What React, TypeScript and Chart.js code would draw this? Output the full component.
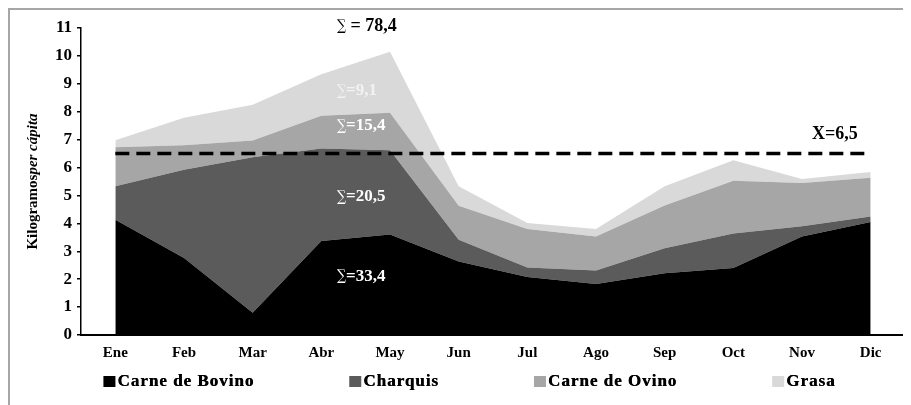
import React, { useEffect, useRef } from "react";
import { Chart, registerables } from "chart.js";

Chart.register(...registerables);

const months = ["Ene", "Feb", "Mar", "Abr", "May", "Jun", "Jul", "Ago", "Sep", "Oct", "Nov", "Dic"];
const bovino = [4.13, 2.76, 0.8, 3.37, 3.6, 2.63, 2.08, 1.83, 2.21, 2.4, 3.53, 4.05];
const charquis = [1.2, 3.16, 5.57, 3.31, 3.02, 0.78, 0.34, 0.48, 0.9, 1.24, 0.37, 0.2];
const ovino = [1.4, 0.88, 0.6, 1.18, 1.34, 1.22, 1.38, 1.22, 1.53, 1.89, 1.55, 1.38];
const grasa = [0.25, 0.98, 1.28, 1.48, 2.19, 0.7, 0.21, 0.27, 0.69, 0.73, 0.14, 0.21];
const mediaValue = 6.5;
const seriesNames = ["Carne de Bovino", "Charquis", "Carne de Ovino", "Grasa"];
const seriesColors = ["#000000", "#5b5b5b", "#a6a6a6", "#d9d9d9"];
const sumLabels = ["=33,4", "=20,5", "=15,4", "=9,1"];
const sumLabelValues = [2.1, 4.95, 7.5, 8.75];
const sumLabelColors = ["#ffffff", "#ffffff", "#ffffff", "#f2f2f2"];
const totalLabel = " = 78,4";
const totalLabelValue = 11.05;
const mediaLabel = "X=6,5";
const mediaLabelValue = 7.2;
const yTicks = [0, 1, 2, 3, 4, 5, 6, 7, 8, 9, 10, 11];

const SERIF = "'Liberation Serif', 'Times New Roman', 'DejaVu Serif', serif";

function drawSigma(ctx: any, text: string, x: number, y: number, color: string, size: number) {
  ctx.fillStyle = color;
  ctx.font = `normal 15px 'DejaVu Serif', serif`;
  const sw = ctx.measureText("∑").width;
  ctx.save();
  ctx.translate(x, y);
  ctx.scale(0.85, 1);
  ctx.fillText("∑", 0, 0);
  ctx.restore();
  ctx.font = `bold ${size}px ${SERIF}`;
  ctx.fillText(text, x + sw * 0.85, y);
}

const annotationsPlugin = {
  id: "annotations",
  afterDatasetsDraw(chart: any) {
    const { ctx, scales } = chart;
    const xs = scales.x;
    const ys = scales.y;
    ctx.save();
    ctx.textBaseline = "middle";
    ctx.textAlign = "left";
    const sx = xs.getPixelForValue(4) - 53;
    sumLabels.forEach((t, i) => {
      drawSigma(ctx, t, sx, ys.getPixelForValue(sumLabelValues[i]), sumLabelColors[i], 17);
    });
    drawSigma(ctx, totalLabel, sx, ys.getPixelForValue(totalLabelValue), "#000", 18);
    ctx.fillStyle = "#000";
    ctx.font = `bold 18px ${SERIF}`;
    ctx.fillText(mediaLabel, xs.getPixelForValue(10) + 10, ys.getPixelForValue(mediaLabelValue));
    ctx.restore();
  },
  afterDraw(chart: any) {
    const { ctx, chartArea, width } = chart;
    ctx.save();
    const cy = (chartArea.top + chartArea.bottom) / 2;
    ctx.translate(23, cy);
    ctx.rotate(-Math.PI / 2);
    ctx.fillStyle = "#000";
    ctx.textBaseline = "middle";
    ctx.textAlign = "left";
    const f1 = `bold 15px ${SERIF}`;
    const f2 = `italic bold 15px ${SERIF}`;
    ctx.font = f1;
    const w1 = ctx.measureText("Kilogramos").width;
    ctx.font = f2;
    const w2 = ctx.measureText("per cápita").width;
    const start = -(w1 + w2) / 2;
    ctx.font = f1;
    ctx.fillText("Kilogramos", start, 0);
    ctx.font = f2;
    ctx.fillText("per cápita", start + w1, 0);
    ctx.restore();

    ctx.save();
    ctx.font = `bold 17px ${SERIF}`;
    (ctx as any).letterSpacing = "1px";
    ctx.textBaseline = "middle";
    ctx.textAlign = "left";
    const box = 12;
    const gapBox = 2;
    const gap = 95;
    const widths = seriesNames.map((n) => box + gapBox + ctx.measureText(n).width);
    const total = widths.reduce((a, b) => a + b, 0) + gap * (seriesNames.length - 1);
    let x = width / 2 + 9 - total / 2;
    const ly = 372;
    seriesNames.forEach((n, i) => {
      ctx.fillStyle = seriesColors[i];
      ctx.fillRect(x, ly - box / 2, box, box - 1);
      ctx.fillStyle = "#000";
      ctx.fillText(n, x + box + gapBox, ly);
      ctx.fillText(n, x + box + gapBox + 0.4, ly);
      x += widths[i] + gap;
    });
    ctx.restore();
  },
};

export default function App() {
  const ref = useRef<HTMLCanvasElement>(null);
  useEffect(() => {
    if (!ref.current) return;
    const series = [bovino, charquis, ovino, grasa];
    const chart = new Chart(ref.current, {
      type: "line",
      data: {
        labels: months,
        datasets: [
          ...series.map((d, i) => ({
            label: seriesNames[i],
            data: d,
            backgroundColor: seriesColors[i],
            borderColor: seriesColors[i],
            borderWidth: 0,
            pointRadius: 0,
            fill: i === 0 ? "origin" : "-1",
            stack: "main",
            tension: 0,
          })),
          {
            label: "Media",
            data: months.map(() => mediaValue),
            borderColor: "#000",
            backgroundColor: "#000",
            borderWidth: 3.5,
            borderDash: [14, 7],
            pointRadius: 0,
            fill: false,
            stack: "media",
            order: -1,
          },
        ],
      },
      options: {
        animation: false,
        responsive: false,
        layout: { padding: { left: 0, top: 18, right: 6, bottom: 40 } },
        plugins: {
          legend: { display: false },
          tooltip: { enabled: false },
        },
        scales: {
          x: {
            offset: true,
            grid: { display: false, drawTicks: false },
            border: { display: true, color: "#000", width: 2 },
            ticks: {
              color: "#000",
              font: { family: SERIF, size: 15, weight: "bold" },
              padding: 9,
              maxRotation: 0,
            },
            afterFit: (s: any) => {
              s.height = 30;
            },
          },
          y: {
            stacked: true,
            min: 0,
            max: 11,
            afterBuildTicks: (s: any) => {
              s.ticks = yTicks.map((v) => ({ value: v }));
            },
            grid: {
              display: true,
              drawOnChartArea: false,
              drawTicks: true,
              tickLength: 4,
              color: "#000",
              lineWidth: 1.5,
            },
            border: { display: true, color: "#000", width: 1.5 },
            ticks: {
              color: "#000",
              font: { family: SERIF, size: 17, weight: "bold" },
              padding: 5,
            },
            afterFit: (s: any) => {
              s.width = 71;
            },
          },
        },
      } as any,
      plugins: [annotationsPlugin],
    });
    return () => chart.destroy();
  }, []);
  return (
    <div
      style={{
        borderTop: "2px solid #a6a6a6",
        borderLeft: "2px solid #a6a6a6",
        width: 901,
        height: 395,
        overflow: "hidden",
      }}
    >
      <canvas ref={ref} width={901} height={395} style={{ display: "block" }} />
    </div>
  );
}
